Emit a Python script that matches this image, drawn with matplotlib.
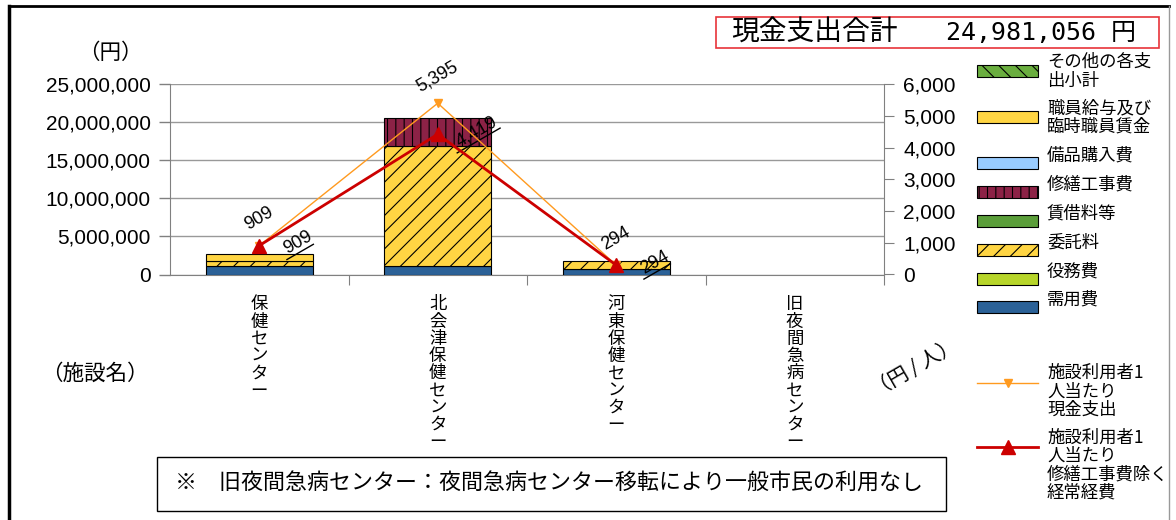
import numpy as np
import matplotlib
matplotlib.use("Agg")
import matplotlib.pyplot as plt
from matplotlib.patches import Rectangle
from matplotlib.lines import Line2D
from matplotlib.transforms import ScaledTranslation
from matplotlib.ticker import FuncFormatter

plt.rcParams['font.family'] = ['Liberation Sans', 'Noto Sans CJK JP', 'DejaVu Sans']
plt.rcParams['hatch.linewidth'] = 0.8
JP = ['Noto Sans CJK JP', 'DejaVu Sans']

# data
facilities = ["保健センター", "北会津保健センター", "河東保健センター", "旧夜間急病センター"]
# stacked cost items, bottom -> top (円)
juyouhi = [1090000, 1180000, 660000, 0]        # 需用費
ekimuhi = [0, 0, 0, 0]                          # 役務費
itakuryo = [620000, 15700000, 1090000, 0]       # 委託料
chinshaku = [0, 0, 0, 0]                        # 賃借料等
shuzen = [0, 3700000, 0, 0]                     # 修繕工事費
bihin = [0, 0, 0, 0]                            # 備品購入費
kyuyo = [920000, 0, 0, 0]                       # 職員給与及び臨時職員賃金
sonota = [0, 0, 0, 0]                           # その他の各支出小計
# per user (円/人)
per_user_total = [909, 5395, 294, np.nan]
per_user_excl = [909, 4419, 294, np.nan]
total_title = "現金支出合計"
total_value = "24,981,056 円"
note = "※　旧夜間急病センター：夜間急病センター移転により一般市民の利用なし"

series = [
    ("需用費", juyouhi, "#2B6197", None),
    ("役務費", ekimuhi, "#B7D52A", None),
    ("委託料", itakuryo, "#FFD543", "//"),
    ("賃借料等", chinshaku, "#5B9E3A", None),
    ("修繕工事費", shuzen, "#8C2246", "||"),
    ("備品購入費", bihin, "#99CCFF", None),
    ("職員給与及び\n臨時職員賃金", kyuyo, "#FFD543", None),
    ("その他の各支\n出小計", sonota, "#6AAE3F", "\\\\"),
]

W, H = 1176, 520
fig = plt.figure(figsize=(W / 100, H / 100), dpi=100)

def fx(px):
    return px / W

def fy(py):
    return 1 - py / H

# outer frame
fig.add_artist(Line2D([fx(9), fx(9)], [0, fy(6)], color="black", lw=2.5))
fig.add_artist(Line2D([fx(9), fx(1169)], [fy(6), fy(6)], color="black", lw=2))
fig.add_artist(Line2D([fx(1169), fx(1169)], [0, fy(6)], color="#999999", lw=1))

ax = fig.add_axes([fx(170), fy(274.5), fx(884 - 170), (274.5 - 84) / H])
x = np.arange(len(facilities))
bottom = np.zeros(len(facilities))
for name, vals, col, hatch in series:
    vals = np.array(vals, dtype=float)
    keep = vals > 0
    if keep.any():
        ax.bar(x[keep], vals[keep], 0.6, bottom=bottom[keep], color=col, edgecolor="black",
               linewidth=0.8, hatch=hatch, zorder=3)
    bottom += vals

ax.set_xlim(-0.5, 3.5)
ax.set_ylim(0, 25000000)
ax.set_yticks(np.arange(0, 25000001, 5000000))
ax.yaxis.set_major_formatter(FuncFormatter(lambda v, p: f"{int(v):,}"))
ax.tick_params(axis="y", labelsize=15, length=8, width=1, color="#808080", pad=6)
ax.set_xticks([0.5, 1.5, 2.5, 3.5])
ax.set_xticklabels([])
ax.tick_params(axis="x", length=7, color="#808080")
ax.grid(axis="y", color="#999999", lw=1, zorder=0)
for s in ["top", "right"]:
    ax.spines[s].set_visible(False)
for s in ["left", "bottom"]:
    ax.spines[s].set_color("#808080")

# vertical category labels
for i, name in enumerate(facilities):
    for k, ch in enumerate(name):
        ax.text(i, -(296 - 274.5 + 8.5 + 17.2 * k) / 190.5, ch, transform=ax.get_xaxis_transform(),
                ha="center", va="center", fontsize=12.5, family=JP)

ax2 = ax.twinx()
ax2.set_ylim(0, 6000)
ax2.set_yticks(np.arange(0, 6001, 1000))
ax2.yaxis.set_major_formatter(FuncFormatter(lambda v, p: f"{int(v):,}"))
ax2.tick_params(axis="y", labelsize=15, length=7, color="#808080", pad=7)
for s in ["top", "left", "bottom"]:
    ax2.spines[s].set_visible(False)
ax2.spines["right"].set_color("#808080")

orange = "#FF9A1F"
red = "#CC0000"
ax2.plot(x, per_user_total, color=orange, lw=1, marker="v", ms=6, zorder=4)
ax2.plot(x, per_user_excl, color=red, lw=2, marker="^", ms=10, zorder=5)

def offs(xv, yv):
    return fig.dpi_scale_trans + ScaledTranslation(xv, yv, ax2.transData)

ang = np.deg2rad(30)
along = np.array([np.cos(ang), np.sin(ang)])
normal = np.array([np.sin(ang), -np.cos(ang)])
for i in range(len(facilities)):
    v = per_user_total[i]
    if np.isnan(v):
        continue
    ax2.text(0, 0.27, f"{int(v):,}", transform=offs(i, v), rotation=30,
             rotation_mode="anchor", ha="center", va="center", fontsize=13)
    v2 = per_user_excl[i]
    lab = f"{int(v2):,}"
    cx, cy = 0.39, 0.03
    ax2.text(cx, cy, lab, transform=offs(i, v2), rotation=30,
             rotation_mode="anchor", ha="center", va="center", fontsize=13)
    half = (len(lab) * 0.095 + 0.02) / 2
    c = np.array([cx, cy]) + normal * 0.09 - along * 0.03
    p0 = c - along * half
    p1 = c + along * half
    ax2.plot([p0[0], p1[0]], [p0[1], p1[1]], color="black", lw=1,
             transform=offs(i, v2), clip_on=False)

# axis captions
fig.text(fx(110), fy(53), "（円）", ha="center", va="center", fontsize=15.5, family=JP)
fig.text(fx(95), fy(374), "（施設名）", ha="center", va="center", fontsize=15.5, family=JP)
fig.text(fx(915), fy(368), "（円 / 人）", ha="center", va="center", fontsize=14.5,
         family=JP, rotation=30)

# total box
fig.add_artist(Rectangle((fx(716), fy(48)), fx(1159 - 716), (48 - 17) / H,
                         fill=False, edgecolor="#E8333A", lw=1.2))
fig.text(fx(731), fy(33), total_title, ha="left", va="center", fontsize=20, family=JP)
fig.text(fx(946), fy(33), total_value, ha="left", va="center", fontsize=18,
         family=['DejaVu Sans Mono', 'Noto Sans CJK JP'])

# note box
fig.add_artist(Rectangle((fx(157), fy(511)), fx(946 - 157), (511 - 457) / H,
                         fill=False, edgecolor="black", lw=1))
fig.text(fx(175), fy(484), note, ha="left", va="center", fontsize=15.8, family=JP)

# legend for bars (top entry first)
leg_y = [70.7, 116.7, 163, 192, 221, 250, 279, 307]
for (name, vals, col, hatch), py in zip(series[::-1], leg_y):
    fig.add_artist(Rectangle((fx(977), fy(py + 6)), fx(61), 12 / H, facecolor=col,
                             edgecolor="black", lw=0.8, hatch=hatch))
    lines = name.split("\n")
    if len(lines) == 1:
        fig.text(fx(1047), fy(py - 7), lines[0], ha="left", va="center",
                 fontsize=12.5, family=JP)
    else:
        for k, ln in enumerate(lines):
            fig.text(fx(1047), fy(py - 8.5 + 18.5 * k), ln, ha="left", va="center",
                     fontsize=12.5, family=JP)

# legend for lines
line_leg = [
    (382.7, orange, 1, "v", 6, ["施設利用者1", "人当たり", "現金支出"]),
    (447, red, 2, "^", 10, ["施設利用者1", "人当たり", "修繕工事費除く", "経常経費"]),
]
for py, col, lw, mk, ms, txt in line_leg:
    fig.add_artist(Line2D([fx(977), fx(1038)], [fy(py), fy(py)], color=col, lw=lw))
    fig.add_artist(Line2D([fx(1008)], [fy(py)], color=col, marker=mk, ms=ms, lw=0))
    for k, ln in enumerate(txt):
        fig.text(fx(1047), fy(py - 9.5 + 18.5 * k), ln, ha="left", va="center",
                 fontsize=12.5, family=JP)

fig.savefig("out.png", dpi=100)
